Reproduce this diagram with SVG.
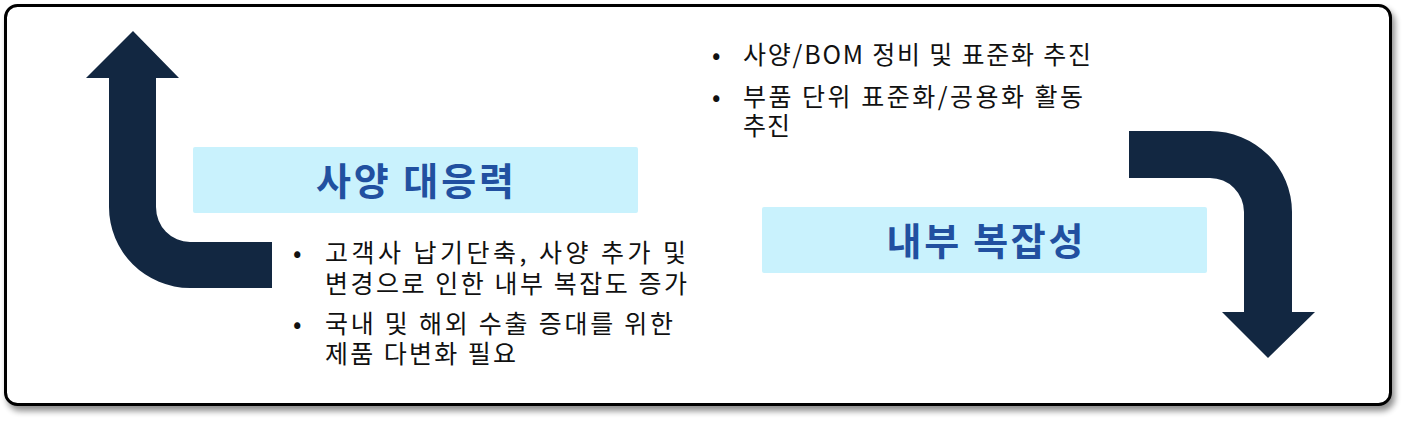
<svg xmlns="http://www.w3.org/2000/svg" width="1404" height="421" viewBox="0 0 1404 421">
<defs>
<filter id="sh" x="-5%" y="-5%" width="110%" height="115%">
<feGaussianBlur in="SourceAlpha" stdDeviation="3"/>
<feOffset dx="3" dy="5" result="b"/>
<feComponentTransfer><feFuncA type="linear" slope="0.45"/></feComponentTransfer>
<feMerge><feMergeNode/><feMergeNode in="SourceGraphic"/></feMerge>
</filter>
<style>
.arrow{fill:#122741}
.lbl{fill:#C9F2FD}
.title{font-family:"Noto Sans CJK KR","Noto Sans",sans-serif;font-weight:bold;font-size:38px;fill:#2150A0;text-anchor:middle}
.txt{font-family:"Noto Sans CJK KR","Noto Sans",sans-serif;font-size:25px;fill:#111}
</style>
</defs>
<rect x="5.5" y="5.5" width="1385" height="399" rx="12" fill="#fff" stroke="#000" stroke-width="3" filter="url(#sh)"/>
<g id="connectors">
<path id="arrow-up" class="arrow" d="M133,31 L179,78 L156,78 L156,207 A34,35 0 0 0 190,242 L272,242 L272,288 L190,288 A81,81 0 0 1 109,207 L109,78 L86,78 Z"/>
<path id="arrow-down" class="arrow" d="M1129,131 L1210,131 A82,81 0 0 1 1292,212 L1292,312 L1315,312 L1268,358 L1222,312 L1244,312 L1244,212 A34,34 0 0 0 1210,178 L1129,178 Z"/>
</g>
<g id="node-spec">
<rect class="lbl" x="193" y="147" width="445" height="66" rx="2"/>
<text class="title" x="415" y="195" textLength="198" lengthAdjust="spacing">사양 대응력</text>
</g>
<g id="node-complex">
<rect class="lbl" x="762" y="207" width="445" height="66" rx="2"/>
<text class="title" x="985" y="255" textLength="197" lengthAdjust="spacing">내부 복잡성</text>
</g>
<g id="text-left" class="txt">
<text x="293" y="262">•</text>
<text><tspan x="325" y="262" textLength="361" lengthAdjust="spacing">고객사 납기단축, 사양 추가 및</tspan><tspan x="325" y="293" textLength="362" lengthAdjust="spacing">변경으로 인한 내부 복잡도 증가</tspan></text>
<text x="293" y="333">•</text>
<text><tspan x="325" y="333" textLength="348" lengthAdjust="spacing">국내 및 해외 수출 증대를 위한</tspan><tspan x="325" y="363" textLength="191" lengthAdjust="spacing">제품 다변화 필요</tspan></text>
</g>
<g id="text-right" class="txt">
<text x="712" y="64">•</text>
<text x="743" y="64" textLength="348" lengthAdjust="spacing">사양/BOM 정비 및 표준화 추진</text>
<text x="712" y="106">•</text>
<text><tspan x="743" y="106" textLength="340" lengthAdjust="spacing">부품 단위 표준화/공용화 활동</tspan><tspan x="743" y="135" textLength="47" lengthAdjust="spacing">추진</tspan></text>
</g>
</svg>
